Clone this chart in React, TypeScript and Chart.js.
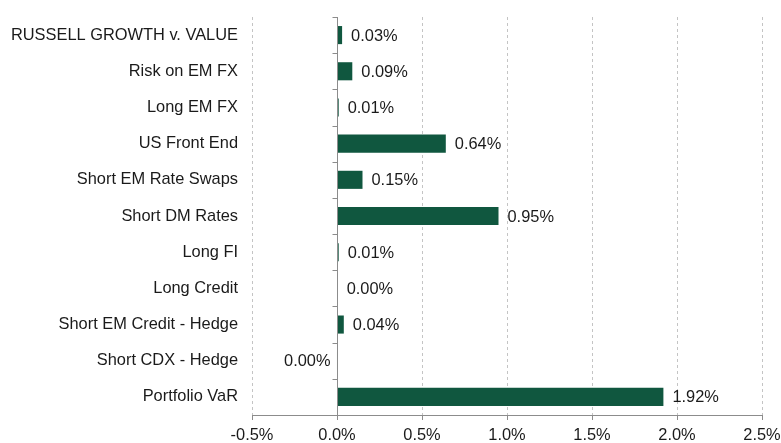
import React, { useEffect, useRef } from 'react';
import { Chart, registerables } from 'chart.js';

Chart.register(...registerables);

const categories = [
  'RUSSELL GROWTH v. VALUE',
  'Risk on EM FX',
  'Long EM FX',
  'US Front End',
  'Short EM Rate Swaps',
  'Short DM Rates',
  'Long FI',
  'Long Credit',
  'Short EM Credit - Hedge',
  'Short CDX - Hedge',
  'Portfolio VaR',
];
const values = [0.03, 0.09, 0.01, 0.64, 0.15, 0.95, 0.01, 0.004, 0.04, -0.003, 1.92];
const xTicks = [-0.5, 0, 0.5, 1, 1.5, 2, 2.5];

const BAR = '#10573F';
const AXIS = '#8C8C8C';
const GRID = '#C4C4C4';
const FONT = 'Liberation Sans, Arial, sans-serif';
const FSIZE = 16.4;

const fmt = (v: number) => {
  const s = Math.abs(v) < 0.005 ? '0.00' : v.toFixed(2);
  return s + '%';
};

const overlay = {
  id: 'overlay',
  afterDatasetsDraw(chart: any) {
    const { ctx, chartArea, scales } = chart;
    const x0 = Math.round(scales.x.getPixelForValue(0)) + 0.5;
    ctx.save();
    ctx.strokeStyle = AXIS;
    ctx.lineWidth = 1;
    ctx.setLineDash([]);
    ctx.beginPath();
    ctx.moveTo(x0, chartArea.top);
    ctx.lineTo(x0, chartArea.bottom);
    const n = categories.length;
    const h = (chartArea.bottom - chartArea.top) / n;
    for (let i = 0; i <= n; i++) {
      const y = Math.round(chartArea.top + i * h) + 0.5;
      ctx.moveTo(x0 - 5, y);
      ctx.lineTo(x0, y);
    }
    ctx.stroke();

    ctx.fillStyle = '#1a1a1a';
    ctx.font = `${FSIZE}px ${FONT}`;
    ctx.textBaseline = 'middle';
    const meta = chart.getDatasetMeta(0);
    meta.data.forEach((bar: any, i: number) => {
      const v = values[i];
      const text = fmt(v);
      if (v >= 0) {
        ctx.textAlign = 'left';
        ctx.fillText(text, bar.x + 9, bar.y + 1);
      } else {
        ctx.textAlign = 'right';
        ctx.fillText(text, bar.x - 6, bar.y + 1);
      }
    });
    ctx.restore();
  },
};

export default function App() {
  const ref = useRef<HTMLCanvasElement | null>(null);
  useEffect(() => {
    if (!ref.current) return;
    const chart = new Chart(ref.current, {
      type: 'bar',
      data: {
        labels: categories,
        datasets: [
          {
            data: values,
            backgroundColor: BAR,
            borderWidth: 0,
            barPercentage: 0.5,
            categoryPercentage: 1,
          },
        ],
      },
      options: {
        indexAxis: 'y',
        responsive: false,
        animation: false,
        devicePixelRatio: 1,
        layout: { padding: { top: 17, right: 19, left: 0, bottom: 0 } },
        plugins: {
          legend: { display: false },
          tooltip: { enabled: false },
        },
        scales: {
          x: {
            min: -0.5,
            max: 2.5,
            afterBuildTicks: (scale: any) => {
              scale.ticks = xTicks.map((v) => ({ value: v }));
            },
            afterFit: (scale: any) => {
              scale.height = 28;
              scale.paddingLeft = 0;
              scale.paddingRight = 0;
            },
            grid: {
              display: true,
              color: GRID,
              tickColor: AXIS,
              tickLength: 5,
              drawTicks: true,
            },
            border: { display: true, color: AXIS, dash: [3, 3] },
            ticks: {
              padding: 6,
              color: '#1a1a1a',
              font: { family: FONT, size: FSIZE },
              callback: (v: any) => `${Number(v).toFixed(1)}%`,
              maxRotation: 0,
            },
          },
          y: {
            afterFit: (scale: any) => {
              scale.width = 252;
              scale.paddingTop = 0;
              scale.paddingBottom = 0;
            },
            grid: { display: false, drawTicks: false },
            border: { display: false },
            ticks: {
              padding: 14,
              color: '#1a1a1a',
              font: { family: FONT, size: FSIZE },
            },
          },
        },
      },
      plugins: [overlay],
    });
    return () => chart.destroy();
  }, []);
  return (
    <div style={{ position: 'fixed', left: 0, top: 0, width: 781, height: 443, background: '#fff' }}>
      <canvas ref={ref} width={781} height={443} style={{ width: 781, height: 443 }} />
    </div>
  );
}
